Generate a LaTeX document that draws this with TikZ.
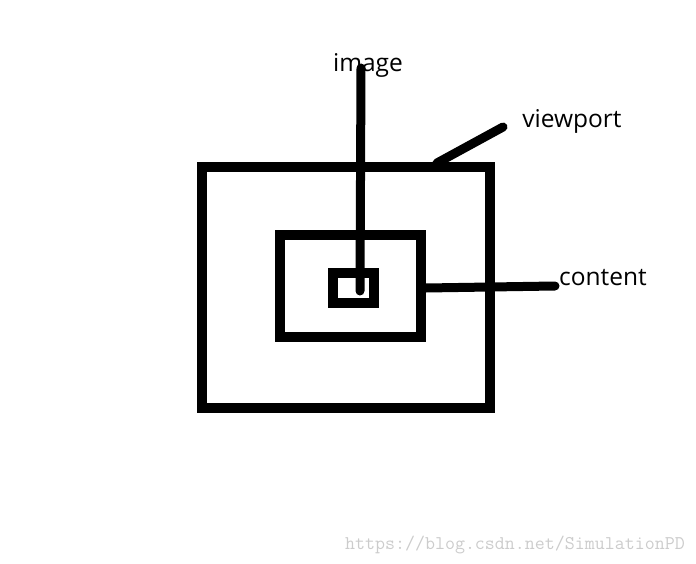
\documentclass[tikz,border=0pt]{standalone}
\usepackage{fontspec}
\setmainfont{Open Sans}
\begin{document}
\begin{tikzpicture}[
        x=1pt, y=-1pt,
        frame/.style={draw, line width=10pt, inner sep=0pt, minimum width=#1},
        lead/.style={line width=9pt, line cap=round},
        tag/.style={font=\fontsize{24.5}{28}\selectfont, inner sep=0pt}
    ]
        \useasboundingbox (0,0) rectangle (696,564);

        % Nested boxes
        \node[frame=288pt, minimum height=241pt] (viewport) at (346,287.5) {};
        \node[frame=141pt, minimum height=102pt] (content) at (350.5,286) {};
        \node[frame=41pt, minimum height=30pt] (image) at (353.5,288) {};

        % Labels
        \node[tag] (imagelbl) at (368,65) {image};
        \node[tag] (viewportlbl) at (572,121) {viewport};
        \node[tag] (contentlbl) at (603,278) {content};

        % Leader ends
        \coordinate (imagetop) at (361,68);
        \coordinate (imagein) at (360,291);
        \coordinate (viewportend) at (503,127);
        \coordinate (viewporttop) at (437,163);
        \coordinate (contentend) at (555,286);

        % Leaders
        \draw[lead] (imagetop) -- (imagein);
        \draw[lead] (viewporttop) -- (viewportend);
        \draw[lead] (content.east |- 0,288) -- (contentend);

        % Watermark
        \node[font=\ttfamily\fontsize{19.4}{21}\selectfont, text=black!20, anchor=east, inner sep=0pt] (mark) at (685,545) {https://blog.csdn.net/SimulationPD};
    \end{tikzpicture}
\end{document}
